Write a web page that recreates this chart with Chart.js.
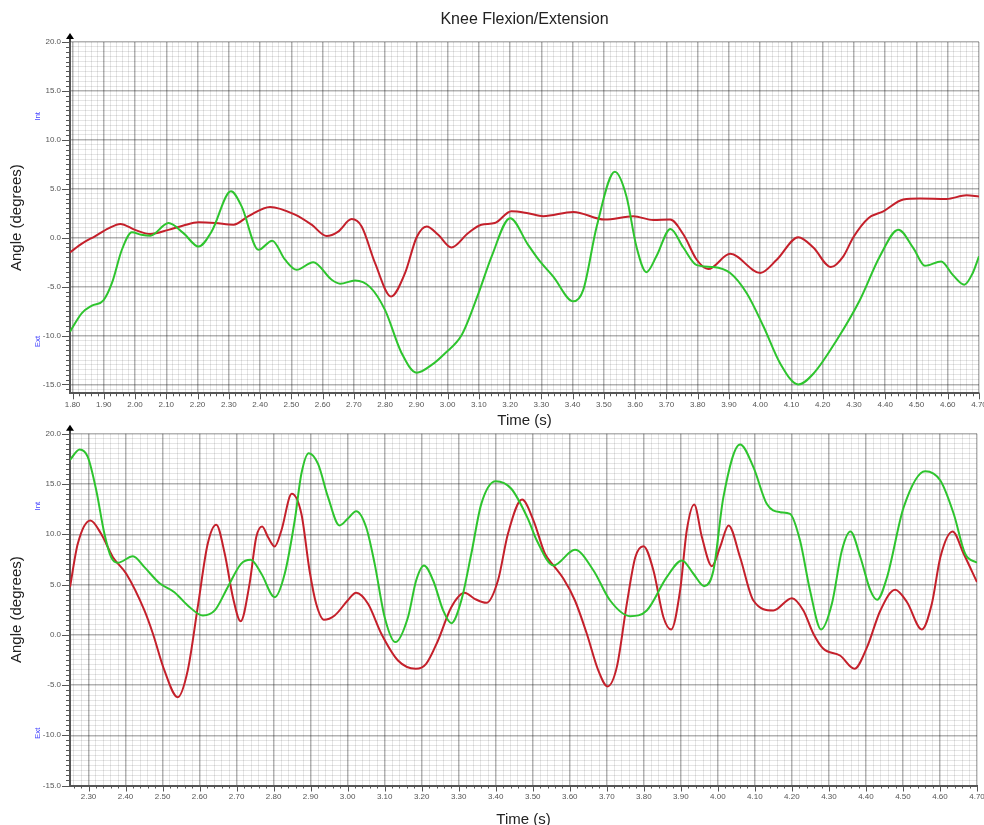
<!DOCTYPE html>
<html>
<head>
<meta charset="utf-8">
<title>Knee Flexion/Extension</title>
<script src="https://cdn.jsdelivr.net/npm/chart.js@4.4.1/dist/chart.umd.min.js"></script>
<style>
  html, body { margin: 0; padding: 0; background: #fff; width: 984px; height: 825px; overflow: hidden; }
  #wrap { position: relative; width: 984px; height: 825px; overflow: hidden; background: #fff; }
  #topChart { position: absolute; left: 0; top: 0; }
  #bottomChart { position: absolute; left: 0; top: 420px; }
</style>
</head>
<body>
<div id="wrap">
  <canvas id="topChart" width="1056" height="430"></canvas>
  <canvas id="bottomChart" width="1000" height="420"></canvas>
</div>
<script>
// ---- Upper trial: knee flexion/extension angle over time ----
const topRedTime  = [1.792, 1.83, 1.873, 1.915, 1.953, 2.0, 2.049, 2.107, 2.155, 2.203, 2.256, 2.315, 2.363, 2.432, 2.512, 2.565, 2.613, 2.65, 2.693, 2.725, 2.768, 2.819, 2.864, 2.901, 2.933, 2.97, 3.012, 3.066, 3.108, 3.151, 3.204, 3.257, 3.306, 3.402, 3.503, 3.594, 3.658, 3.712, 3.755, 3.797, 3.834, 3.904, 4.0, 4.053, 4.122, 4.17, 4.226, 4.266, 4.298, 4.346, 4.394, 4.458, 4.511, 4.596, 4.66, 4.70];
const topRedAngle = [-1.5, -0.6, 0.17, 0.95, 1.41, 0.8, 0.38, 0.8, 1.25, 1.57, 1.5, 1.33, 2.2, 3.15, 2.36, 1.33, 0.17, 0.63, 1.9, 1.15, -2.6, -6.0, -3.6, 0.05, 1.15, 0.3, -1.0, 0.48, 1.33, 1.5, 2.7, 2.5, 2.2, 2.63, 1.85, 2.2, 1.8, 1.85, 0.3, -2.25, -3.2, -1.65, -3.6, -2.25, 0.05, -1.0, -3.0, -1.9, 0.05, 2.0, 2.7, 3.9, 4.0, 3.96, 4.34, 4.2];

const topGreenTime  = [1.792, 1.83, 1.862, 1.899, 1.926, 1.958, 1.99, 2.02, 2.049, 2.107, 2.155, 2.203, 2.245, 2.307, 2.341, 2.395, 2.439, 2.48, 2.517, 2.57, 2.629, 2.656, 2.704, 2.752, 2.8, 2.853, 2.901, 2.949, 2.992, 3.045, 3.099, 3.141, 3.2, 3.257, 3.295, 3.338, 3.402, 3.434, 3.477, 3.535, 3.572, 3.604, 3.636, 3.668, 3.713, 3.754, 3.797, 3.85, 3.904, 3.957, 4.011, 4.064, 4.122, 4.17, 4.245, 4.319, 4.383, 4.442, 4.49, 4.527, 4.579, 4.616, 4.653, 4.68, 4.70];
const topGreenAngle = [-9.6, -7.7, -6.95, -6.4, -4.65, -1.23, 0.55, 0.3, 0.2, 1.5, 0.47, -0.9, 0.63, 4.74, 3.2, -1.23, -0.3, -2.25, -3.28, -2.5, -4.3, -4.7, -4.37, -5.05, -7.4, -11.8, -13.8, -13.0, -11.8, -9.95, -5.67, -1.9, 2.0, -0.7, -2.4, -3.97, -6.5, -5.33, 1.15, 6.73, 4.24, -0.9, -3.52, -1.9, 0.9, -1.0, -2.8, -3.0, -3.6, -5.67, -9.1, -12.85, -15.0, -13.9, -10.45, -6.36, -1.9, 0.82, -1.06, -2.87, -2.43, -3.8, -4.8, -3.6, -1.9];

// ---- Lower trial ----
const bottomRedTime  = [2.25, 2.271, 2.305, 2.334, 2.366, 2.402, 2.451, 2.474, 2.505, 2.541, 2.568, 2.595, 2.622, 2.645, 2.668, 2.69, 2.711, 2.735, 2.753, 2.769, 2.785, 2.803, 2.821, 2.849, 2.875, 2.897, 2.915, 2.936, 2.965, 3.0, 3.023, 3.055, 3.091, 3.136, 3.184, 3.212, 3.244, 3.28, 3.316, 3.343, 3.375, 3.406, 3.433, 3.471, 3.502, 3.533, 3.556, 3.583, 3.614, 3.646, 3.677, 3.702, 3.727, 3.754, 3.777, 3.799, 3.826, 3.853, 3.874, 3.898, 3.916, 3.936, 3.957, 3.984, 4.006, 4.029, 4.06, 4.096, 4.15, 4.2, 4.231, 4.258, 4.285, 4.33, 4.369, 4.403, 4.439, 4.479, 4.511, 4.551, 4.578, 4.601, 4.634, 4.664, 4.70];
const bottomRedAngle = [4.74, 9.05, 11.37, 10.05, 7.72, 6.07, 2.42, 0.1, -3.55, -6.21, -3.55, 2.75, 9.05, 10.95, 8.06, 3.74, 1.35, 5.07, 9.71, 10.78, 9.71, 8.79, 10.38, 14.03, 12.04, 6.4, 3.08, 1.49, 1.92, 3.41, 4.18, 3.08, 0.1, -2.56, -3.38, -2.89, -0.57, 2.75, 4.18, 3.58, 3.18, 5.4, 10.05, 13.45, 11.37, 8.06, 6.9, 5.57, 3.41, 0.1, -3.55, -5.14, -3.22, 3.08, 7.72, 8.82, 6.4, 1.75, 0.53, 4.41, 10.38, 12.97, 9.71, 6.83, 8.72, 10.88, 7.72, 3.41, 2.42, 3.64, 2.42, 0.1, -1.39, -2.06, -3.38, -1.23, 2.42, 4.48, 3.24, 0.53, 3.08, 7.72, 10.28, 8.06, 5.24];

const bottomGreenTime  = [2.25, 2.276, 2.298, 2.321, 2.343, 2.361, 2.379, 2.42, 2.451, 2.492, 2.532, 2.568, 2.609, 2.641, 2.676, 2.712, 2.738, 2.767, 2.803, 2.83, 2.857, 2.875, 2.895, 2.92, 2.947, 2.978, 3.0, 3.023, 3.05, 3.073, 3.1, 3.129, 3.163, 3.185, 3.206, 3.231, 3.258, 3.28, 3.307, 3.334, 3.361, 3.4, 3.442, 3.487, 3.511, 3.556, 3.614, 3.664, 3.709, 3.763, 3.808, 3.862, 3.903, 3.934, 3.963, 3.988, 4.015, 4.06, 4.096, 4.132, 4.168, 4.195, 4.222, 4.249, 4.279, 4.308, 4.335, 4.358, 4.385, 4.412, 4.43, 4.457, 4.502, 4.56, 4.601, 4.637, 4.668, 4.70];
const bottomGreenAngle = [17.4, 18.44, 17.7, 14.36, 10.05, 7.72, 7.16, 7.82, 6.73, 5.13, 4.24, 2.92, 1.92, 2.42, 4.74, 7.06, 7.46, 6.07, 3.74, 6.07, 11.37, 16.02, 18.07, 17.0, 13.7, 10.88, 11.54, 12.3, 10.7, 7.06, 1.75, -0.73, 1.75, 5.4, 6.9, 5.4, 2.42, 1.15, 3.41, 8.06, 13.03, 15.28, 14.53, 11.54, 9.38, 6.9, 8.46, 6.4, 3.41, 1.85, 2.42, 5.73, 7.4, 6.07, 4.84, 6.4, 13.7, 18.94, 16.68, 13.03, 12.2, 12.04, 9.38, 4.41, 0.53, 3.08, 8.39, 10.28, 7.72, 4.41, 3.48, 5.73, 12.7, 16.28, 15.35, 12.04, 8.06, 7.16];

// Axis limits and labelling
const topTimeRange    = [1.792, 4.70];
const bottomTimeRange = [2.25, 4.70];
const topAngleRange    = [-15.9, 20];
const bottomAngleRange = [-15, 20];
const chartTitle = 'Knee Flexion/Extension';
const angleAxisTitle = 'Angle (degrees)';
const timeAxisTitle = 'Time (s)';
const directionLabels = ['Int', 'Ext'];

const RED = '#c4202b';
const GREEN = '#2ec42e';
const FONT = '"Liberation Sans", Arial, Helvetica, sans-serif';

const zip = (xs, ys) => xs.map((x, i) => ({ x, y: ys[i] }));
const isMajorTime = v => Math.abs(v * 10 - Math.round(v * 10)) < 1e-6;
const isMajorAngle = v => Math.abs(v / 5 - Math.round(v / 5)) < 1e-6;

function stepTicks(min, max, step) {
  const out = [];
  for (let k = Math.ceil(min / step - 1e-9); k * step <= max + 1e-9; k++) {
    out.push({ value: +(k * step).toFixed(4) });
  }
  return out;
}

// Tick marks, axis arrow and Int/Ext markers around the plot frame
const axisDecor = {
  id: 'axisDecor',
  afterDraw(chart, args, opts) {
    const { ctx, chartArea: a, scales: { x, y } } = chart;
    ctx.save();
    ctx.strokeStyle = '#555';
    ctx.lineWidth = 1;
    y.ticks.forEach(t => {
      const py = Math.round(y.getPixelForValue(t.value)) + 0.5;
      const len = isMajorAngle(t.value) ? 8 : 4;
      ctx.beginPath();
      ctx.moveTo(a.left - len, py);
      ctx.lineTo(a.left, py);
      ctx.stroke();
    });
    x.ticks.forEach(t => {
      const px = Math.round(x.getPixelForValue(t.value)) + 0.5;
      const len = isMajorTime(t.value) ? 6 : 3;
      ctx.beginPath();
      ctx.moveTo(px, a.bottom);
      ctx.lineTo(px, a.bottom + len);
      ctx.stroke();
    });
    // arrow head on the angle axis
    ctx.strokeStyle = '#444';
    ctx.lineWidth = 2;
    ctx.beginPath();
    ctx.moveTo(a.left, a.top);
    ctx.lineTo(a.left, a.top - 4);
    ctx.stroke();
    ctx.fillStyle = '#000';
    ctx.beginPath();
    ctx.moveTo(a.left, a.top - 9);
    ctx.lineTo(a.left - 4, a.top - 3);
    ctx.lineTo(a.left + 4, a.top - 3);
    ctx.closePath();
    ctx.fill();
    // internal / external rotation markers
    ctx.fillStyle = '#4646ff';
    ctx.font = '8px ' + FONT;
    ctx.textAlign = 'center';
    ctx.textBaseline = 'middle';
    [[directionLabels[0], opts.intAt], [directionLabels[1], opts.extAt]].forEach(([txt, v]) => {
      ctx.save();
      ctx.translate(opts.labelX, y.getPixelForValue(v));
      ctx.rotate(-Math.PI / 2);
      ctx.fillText(txt, 0, 0);
      ctx.restore();
    });
    ctx.restore();
  }
};

function makeChart(id, cfg) {
  // translucent strokes so crossing minor lines never break up the major ones
  const grid = isMajor => ({
    drawTicks: false,
    color: c => (c.tick && isMajor(c.tick.value)) ? 'rgba(0,0,0,0.30)' : 'rgba(0,0,0,0.10)',
    lineWidth: c => (c.tick && isMajor(c.tick.value)) ? 1.5 : 1
  });
  return new Chart(document.getElementById(id), {
    type: 'line',
    data: {
      datasets: [
        { data: cfg.green, borderColor: GREEN, borderWidth: 2, pointRadius: 0, cubicInterpolationMode: 'monotone', fill: false },
        { data: cfg.red, borderColor: RED, borderWidth: 2, pointRadius: 0, cubicInterpolationMode: 'monotone', fill: false }
      ]
    },
    options: {
      responsive: false,
      devicePixelRatio: 1,
      animation: false,
      events: [],
      layout: { padding: cfg.padding },
      plugins: {
        legend: { display: false },
        tooltip: { enabled: false },
        title: cfg.title ? {
          display: true,
          fullSize: false,
          text: cfg.title,
          color: '#222',
          font: { family: FONT, size: 16, weight: 'normal' },
          padding: { top: 10, bottom: 12.8 }
        } : { display: false },
        axisDecor: { intAt: cfg.intAt, extAt: cfg.extAt, labelX: 38 }
      },
      scales: {
        x: {
          type: 'linear',
          min: cfg.xRange[0],
          max: cfg.xRange[1],
          afterBuildTicks: s => { s.ticks = stepTicks(cfg.xRange[0], cfg.xRange[1], 0.02); },
          afterFit: s => { s.height = cfg.xAxisHeight; },
          grid: grid(isMajorTime),
          border: { display: true, color: '#555', width: 2 },
          ticks: {
            autoSkip: false, maxRotation: 0, minRotation: 0,
            padding: cfg.xTickPad,
            color: '#555',
            font: { family: FONT, size: 8 },
            callback: v => isMajorTime(v) ? v.toFixed(2) : ''
          },
          title: {
            display: true, text: timeAxisTitle, color: '#222',
            font: { family: FONT, size: 15 },
            padding: { top: 0, bottom: cfg.xTitlePad }
          }
        },
        y: {
          type: 'linear',
          min: cfg.yRange[0],
          max: cfg.yRange[1],
          afterBuildTicks: s => { s.ticks = stepTicks(cfg.yRange[0], cfg.yRange[1], 0.5); },
          afterFit: s => { s.width = 70; },
          grid: grid(isMajorAngle),
          border: { display: true, color: '#555', width: 2 },
          ticks: {
            autoSkip: false,
            padding: 9,
            color: '#555',
            font: { family: FONT, size: 8 },
            callback: v => isMajorAngle(v) ? v.toFixed(1) : ''
          },
          title: {
            display: true, text: angleAxisTitle, color: '#222',
            font: { family: FONT, size: 15 },
            padding: { top: 8, bottom: 0 }
          }
        }
      }
    },
    plugins: [axisDecor]
  });
}

makeChart('topChart', {
  green: zip(topGreenTime, topGreenAngle),
  red: zip(topRedTime, topRedAngle),
  xRange: topTimeRange,
  yRange: topAngleRange,
  title: chartTitle,
  padding: { top: 0, left: 0, right: 77, bottom: 0 },
  xAxisHeight: 36.7,
  xTickPad: 7,
  xTitlePad: 0.5,
  intAt: 12.4,
  extAt: -10.6
});

makeChart('bottomChart', {
  green: zip(bottomGreenTime, bottomGreenAngle),
  red: zip(bottomRedTime, bottomRedAngle),
  xRange: bottomTimeRange,
  yRange: bottomAngleRange,
  title: null,
  padding: { top: 13.3, left: 0, right: 23, bottom: 0 },
  xAxisHeight: 54.5,
  xTickPad: 6.5,
  xTitlePad: 11.5,
  intAt: 12.8,
  extAt: -9.8
});
</script>
</body>
</html>
